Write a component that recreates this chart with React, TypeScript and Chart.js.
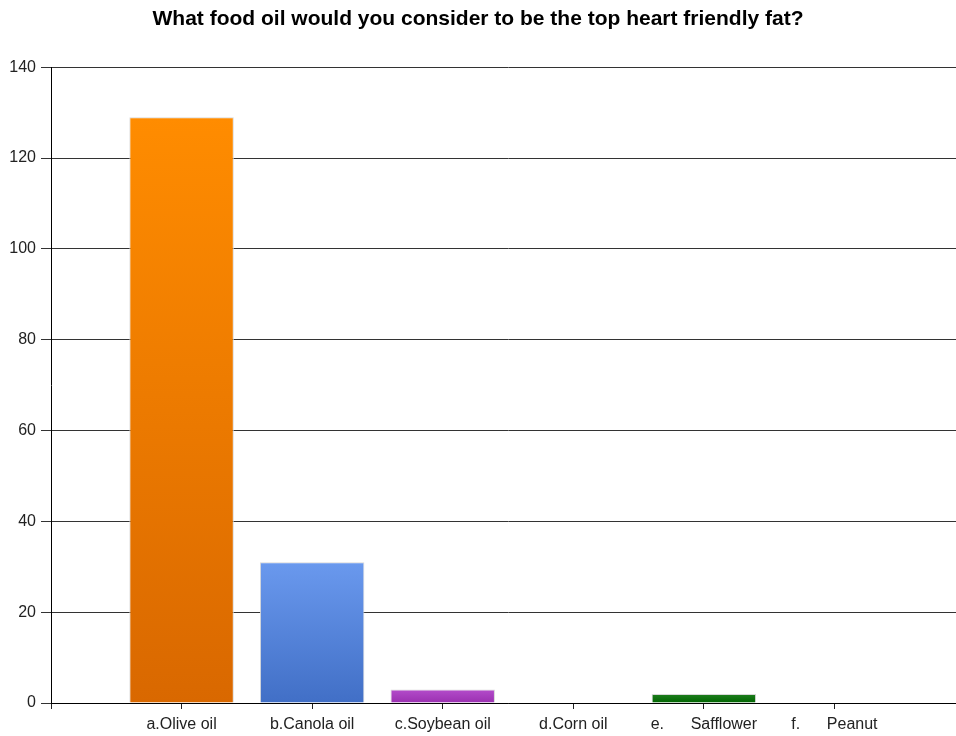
import React, { useEffect, useRef } from 'react';
import { Chart, registerables } from 'chart.js';

Chart.register(...registerables);

const TITLE = 'What food oil would you consider to be the top heart friendly fat?';
const categories = ['a.Olive oil', 'b.Canola oil', 'c.Soybean oil', 'd.Corn oil', 'e.      Safflower', 'f.      Peanut'];
const responses = [129, 31, 3, 0, 2, 0];
const yMin = 0;
const yMax = 140;
const yStep = 20;
const barTopColors = ['#FF8C00', '#6A99EE', '#B44CCB', '#FFFFFF', '#1E7F1E', '#FFFFFF'];
const barBottomColors = ['#D96800', '#416FC6', '#9A30B0', '#FFFFFF', '#006400', '#FFFFFF'];

export default function App() {
  const canvasRef = useRef<HTMLCanvasElement | null>(null);

  useEffect(() => {
    const canvas = canvasRef.current;
    if (!canvas) return;
    const labels = ['', ...categories, ''];
    const data = [null, ...responses, null];

    const chart = new Chart(canvas, {
      type: 'bar',
      data: {
        labels,
        datasets: [
          {
            data: data as any,
            barPercentage: 0.8,
            categoryPercentage: 1,
            borderColor: '#D8D8D8',
            borderWidth: (ctx: any) => (ctx.raw ? 1 : 0),
            borderSkipped: 'bottom',
            backgroundColor: (ctx: any) => {
              const i = ctx.dataIndex - 1;
              const chartObj = ctx.chart;
              const v = ctx.raw;
              if (i < 0 || i >= categories.length || v == null) return 'transparent';
              const ys = chartObj.scales && chartObj.scales.y;
              if (!ys || !chartObj.chartArea) return barTopColors[i];
              const top = ys.getPixelForValue(v);
              const bottom = ys.getPixelForValue(0);
              if (!isFinite(top) || !isFinite(bottom) || top === bottom) return barTopColors[i];
              const g = chartObj.ctx.createLinearGradient(0, top, 0, bottom);
              g.addColorStop(0, barTopColors[i]);
              g.addColorStop(1, barBottomColors[i]);
              return g;
            },
          },
        ],
      },
      options: {
        responsive: false,
        animation: false,
        layout: { padding: { left: -9, right: 10, top: 0, bottom: 0 } },
        plugins: {
          legend: { display: false },
          tooltip: { enabled: false },
          title: {
            display: true,
            text: TITLE,
            color: '#000',
            font: { family: '"Liberation Sans", Arial, sans-serif', size: 21, weight: 'bold' },
            padding: { top: 7, bottom: 35 },
          },
        },
        scales: {
          x: {
            type: 'category',
            offset: false,
            grid: { offset: false, drawOnChartArea: false, drawTicks: true, tickLength: 6, color: '#222' },
            border: { display: true, color: '#000', width: 1 },
            ticks: {
              autoSkip: false,
              maxRotation: 0,
              minRotation: 0,
              padding: 6,
              color: '#222',
              font: { family: '"Liberation Sans", Arial, sans-serif', size: 16 },
            },
            afterFit: (s: any) => {
              s.height = 33;
            },
          },
          y: {
            min: yMin,
            max: yMax,
            grid: { color: '#333', lineWidth: 1, drawTicks: true, tickLength: 10 },
            border: { display: true, color: '#000', width: 1 },
            ticks: {
              stepSize: yStep,
              padding: 5,
              color: '#222',
              font: { family: '"Liberation Sans", Arial, sans-serif', size: 16 },
            },
            afterFit: (s: any) => {
              s.width = 60;
            },
          },
        },
      },
    });
    return () => chart.destroy();
  }, []);

  return (
    <div style={{ position: 'fixed', left: 0, top: 0, width: 956, height: 736, overflow: 'hidden', background: '#fff' }}>
      <canvas ref={canvasRef} width={975} height={736} style={{ display: 'block' }} />
    </div>
  );
}
